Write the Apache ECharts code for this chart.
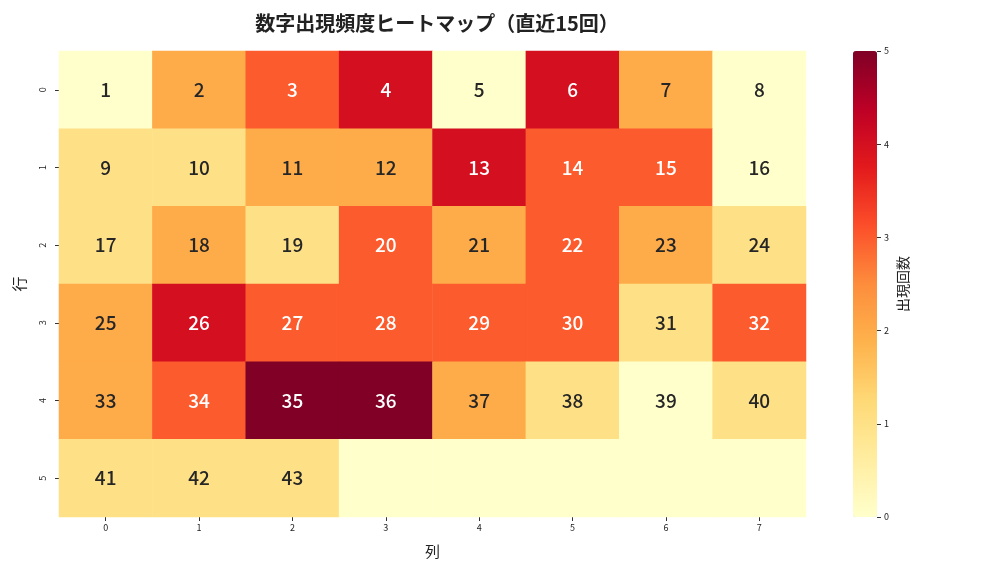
<!DOCTYPE html>
<html>
<head>
<meta charset="utf-8">
<script src="https://cdn.jsdelivr.net/npm/echarts@6/dist/echarts.min.js"></script>
<style>html,body{margin:0;padding:0;background:#fff;}#c{width:1008px;height:576px;}</style>
</head>
<body>
<div id="c"></div>
<script>
const colLabels = ['0','1','2','3','4','5','6','7'];
const rowLabels = ['0','1','2','3','4','5'];
const counts = [
  [0,2,3,4,0,4,2,0],
  [1,1,2,2,4,3,3,0],
  [1,2,1,3,2,3,2,1],
  [2,4,3,3,3,3,1,3],
  [2,3,5,5,2,1,0,1],
  [1,1,1,0,0,0,0,0]
];
const numbers = [
  ['1','2','3','4','5','6','7','8'],
  ['9','10','11','12','13','14','15','16'],
  ['17','18','19','20','21','22','23','24'],
  ['25','26','27','28','29','30','31','32'],
  ['33','34','35','36','37','38','39','40'],
  ['41','42','43','','','','','']
];
const cbTicks = ['0','1','2','3','4','5'];
const ylorrd = ['#ffffcc','#ffeda0','#fed976','#feb24c','#fd8d3c','#fc4e2a','#e31a1c','#bd0026','#800026'];

const data = [];
counts.forEach((row, r) => row.forEach((v, c) => data.push({
  value: [c, r, v], lab: numbers[r][c],
  label: {color: v >= 3 ? '#ffffff' : '#262626'}
})));

const font = '"Noto Sans CJK JP", "Noto Sans", sans-serif';
const chart = echarts.init(document.getElementById('c'));
chart.setOption({
  animation: false,
  textStyle: {fontFamily: font},
  title: {
    text: '数字出現頻度ヒートマップ（直近15回）',
    left: 432, top: 8, textAlign: 'center',
    textStyle: {fontSize: 20, fontWeight: 'bold', color: '#222', fontFamily: font}
  },
  grid: [
    {left: 59, top: 51, width: 747, height: 466},
    {left: 853, top: 51, width: 24, height: 466}
  ],
  xAxis: [
    {type: 'category', gridIndex: 0, data: colLabels, position: 'bottom',
     axisLine: {show: false}, splitLine: {show: false},
     axisTick: {show: true, alignWithLabel: true, length: 4, lineStyle: {color: '#333'}},
     axisLabel: {fontSize: 9, color: '#222', margin: 6},
     name: '列', nameLocation: 'middle', nameGap: 27,
     nameTextStyle: {fontSize: 15, color: '#222'}},
    {type: 'category', gridIndex: 1, data: [''], show: false}
  ],
  yAxis: [
    {type: 'category', gridIndex: 0, data: rowLabels, inverse: true,
     axisLine: {show: false}, splitLine: {show: false},
     axisTick: {show: true, alignWithLabel: true, length: 4, lineStyle: {color: '#333'}},
     axisLabel: {fontSize: 9, color: '#222', rotate: 90, margin: 12},
     name: '行', nameLocation: 'middle', nameGap: 32, nameRotate: 90,
     nameTextStyle: {fontSize: 15, color: '#222'}},
    {type: 'value', gridIndex: 1, min: 0, max: 5, interval: 1, position: 'right',
     axisLine: {show: false}, splitLine: {show: false},
     axisTick: {show: true, length: 4, lineStyle: {color: '#333'}},
     axisLabel: {fontSize: 9, color: '#222', margin: 7},
     name: '出現回数', nameLocation: 'middle', nameGap: 19, nameRotate: 90,
     nameTextStyle: {fontSize: 14, color: '#222'}}
  ],
  visualMap: {
    type: 'continuous', min: 0, max: 5, seriesIndex: 0,
    left: 853, top: 51, itemWidth: 24, itemHeight: 466, padding: 0,
    calculable: false, hoverLink: false, indicatorSize: 0,
    inRange: {color: ylorrd}
  },
  series: [
    {type: 'heatmap', xAxisIndex: 0, yAxisIndex: 0, data: data,
     label: {show: true, fontSize: 19, fontWeight: 500, fontFamily: font,
       formatter: p => p.data.lab},
     itemStyle: {borderWidth: 0}
    }
  ]
});
</script>
</body>
</html>
